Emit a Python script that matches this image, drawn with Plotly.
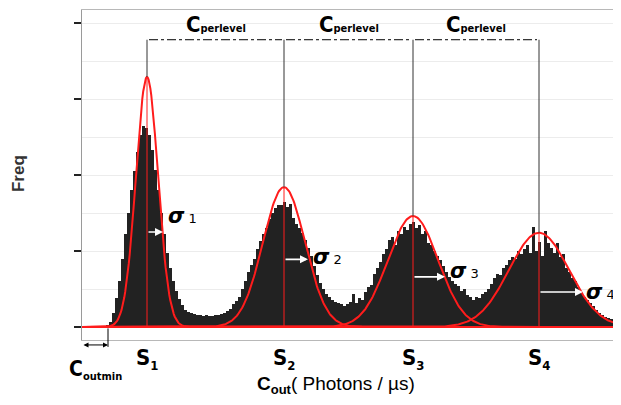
import math
import plotly.graph_objects as go

# ---------------- data ----------------
BIN_WIDTH = 3  # photons/us per bin (arbitrary units, axis unlabeled)
counts = [
    0, 0, 0, 0, 0, 0, 0.01, 0.01, 0.02, 0.07,
    0.18, 0.38, 0.60, 0.90, 1.22, 1.50, 1.80, 2.05, 2.30, 2.52,
    2.64, 2.62, 2.52, 2.33, 2.06, 1.80, 1.50, 1.22, 0.98, 0.78,
    0.60, 0.47, 0.37, 0.29, 0.23, 0.20, 0.18, 0.17, 0.16, 0.16,
    0.15, 0.16, 0.15, 0.15, 0.16, 0.16, 0.17, 0.19, 0.21, 0.24,
    0.30, 0.34, 0.40, 0.50, 0.60, 0.73, 0.82, 0.90, 1.02, 1.13,
    1.22, 1.30, 1.42, 1.50, 1.56, 1.60, 1.60, 1.64, 1.58, 1.62,
    1.44, 1.36, 1.30, 1.24, 1.15, 1.04, 0.94, 0.80, 0.68, 0.58,
    0.50, 0.44, 0.39, 0.36, 0.33, 0.31, 0.30, 0.28, 0.30, 0.33,
    0.44, 0.31, 0.38, 0.36, 0.46, 0.52, 0.55, 0.70, 0.78, 0.86,
    0.96, 1.02, 1.14, 1.18, 1.08, 1.26, 1.22, 1.32, 1.28, 1.36,
    1.38, 1.30, 1.34, 1.22, 1.26, 1.10, 1.08, 1.00, 0.94, 0.88,
    0.80, 0.72, 0.66, 0.60, 0.56, 0.54, 0.47, 0.50, 0.42, 0.40,
    0.36, 0.40, 0.38, 0.44, 0.46, 0.50, 0.56, 0.64, 0.70, 0.68,
    0.78, 0.82, 0.88, 0.92, 0.90, 1.00, 0.96, 1.02, 1.08, 0.98,
    1.32, 1.00, 1.12, 0.94, 1.26, 1.10, 1.04, 0.98, 1.10, 0.92,
    0.96, 0.78, 0.72, 0.64, 0.60, 0.52, 0.46, 0.40, 0.35, 0.31,
    0.27, 0.23, 0.19, 0.16, 0.13, 0.12, 0.10, 0.08, 0.06, 0.05,
]
bin_centers = [BIN_WIDTH * (i + 0.5) for i in range(len(counts))]

peak_names = ["1", "2", "3", "4"]
peak_centers = [65, 202, 331, 457]       # fitted means
peak_heights = [3.29, 1.84, 1.46, 1.24]  # fitted amplitudes
peak_sigmas = [11, 21, 25, 30]           # fitted std devs
sigma_arrow_y = [1.25, 0.89, 0.66, 0.46]
sigma_arrow_len = [16, 24, 32, 44]
sigma_label_gap = [3, 3, 3, 1]
sigma_label_yshift = [16, 2, 6, 0]
cperlevel_y = 3.78
coutmin = 26
x_max = 539
y_range = [-0.171, 4.171]

RED = "rgb(255,28,28)"
BOLD_FONT = "Liberation Sans Narrow, DejaVu Sans Condensed, Liberation Sans, Arial"

fig = go.Figure()

# histogram bars
fig.add_trace(go.Bar(
    x=bin_centers, y=counts, width=BIN_WIDTH * 0.72,
    marker=dict(color="#222222", line=dict(width=0)),
    hoverinfo="skip", showlegend=False,
))

# gaussian fits
n_pts = 600
xs = [x_max * i / (n_pts - 1) for i in range(n_pts)]
for mu, h, s in zip(peak_centers, peak_heights, peak_sigmas):
    ys = [h * math.exp(-0.5 * ((x - mu) / s) ** 2) for x in xs]
    fig.add_trace(go.Scatter(x=xs, y=ys, mode="lines",
                             line=dict(color=RED, width=2),
                             hoverinfo="skip", showlegend=False))

shapes = []
annotations = []
for i, (mu, h, s) in enumerate(zip(peak_centers, peak_heights, peak_sigmas)):
    shapes.append(dict(type="line", x0=mu, x1=mu, y0=0, y1=h,
                       line=dict(color=RED, width=1), layer="above"))
    shapes.append(dict(type="line", x0=mu, x1=mu, y0=h, y1=cperlevel_y,
                       line=dict(color="#333", width=1), layer="above"))
    annotations.append(dict(x=mu, y=-0.106, xref="x", yref="paper", showarrow=False,
                            text="<b>S<sub><span style='font-size:13px'>" + peak_names[i] + "</span></sub></b>",
                            font=dict(size=22, color="black", family=BOLD_FONT)))
    annotations.append(dict(x=mu + sigma_arrow_len[i], y=sigma_arrow_y[i],
                            ax=mu, ay=sigma_arrow_y[i], xref="x", yref="y",
                            axref="x", ayref="y", text="", showarrow=True,
                            arrowhead=2, arrowsize=1, arrowwidth=1.6,
                            arrowcolor="white"))
    annotations.append(dict(x=mu + sigma_arrow_len[i] + sigma_label_gap[i], y=sigma_arrow_y[i],
                            xref="x", yref="y", xanchor="left", showarrow=False,
                            yshift=sigma_label_yshift[i],
                            text="<b><i>σ</i></b><span style='font-size:13px'> " + peak_names[i] + "</span>",
                            font=dict(size=21, color="black", family="DejaVu Sans, Liberation Sans")))

# C_perlevel dash-dot double arrows
for a, b in zip(peak_centers[:-1], peak_centers[1:]):
    shapes.append(dict(type="line", x0=a + 2, x1=b - 2, y0=cperlevel_y, y1=cperlevel_y,
                       line=dict(color="black", width=1, dash="dashdot"), layer="above"))
    for tip, tail in ((b, b - 1), (a, a + 1)):
        annotations.append(dict(x=tip, y=cperlevel_y, ax=tail, ay=cperlevel_y,
                                xref="x", yref="y", axref="x", ayref="y", text="",
                                showarrow=True, arrowhead=2, arrowsize=1.4,
                                arrowwidth=1.5, arrowcolor="black"))
    annotations.append(dict(x=(a + b) / 2, y=1.0, xref="x", yref="paper", yanchor="top",
                            showarrow=False,
                            text="<b>C<span style='font-size:11px'>perlevel</span></b>",
                            font=dict(size=22, color="black", family=BOLD_FONT)))

# C_outmin marker (below the axis)
annotations.append(dict(x=coutmin, y=-0.015, xref="x", yref="paper",
                        ax=0, ay=0, axref="x", ayref="pixel", text="", showarrow=True,
                        arrowhead=2, startarrowhead=2, arrowside="end+start",
                        arrowsize=1, arrowwidth=1, arrowcolor="black"))
annotations.append(dict(x=coutmin, y=-0.021, xref="x", yref="paper",
                        ax=0, ay=-20, text="", showarrow=True, arrowhead=0,
                        arrowwidth=1, arrowcolor="black"))
annotations.append(dict(x=13, y=-0.136, xref="x", yref="paper", showarrow=False,
                        text="<b>C<sub><span style='font-size:11px'>outmin</span></sub></b>",
                        font=dict(size=21, color="black", family=BOLD_FONT)))

# axis titles as annotations
annotations.append(dict(x=0.471, y=-0.178, xref="paper", yref="paper", showarrow=False,
                        text="<b>C<sub><span style='font-size:13px'>out</span></sub></b>( Photons / µs)",
                        font=dict(size=19, color="black", family="Liberation Sans, Arial")))
annotations.append(dict(x=-0.14, y=0.503, xref="paper", yref="paper", showarrow=False,
                        textangle=-90, text="<b>Freq</b>",
                        font=dict(size=17, color="#333", family="Liberation Sans, Arial")))

# the page body has an 8px margin, so the figure is offset by (8, 8)
fig.update_layout(
    width=613, height=389,
    margin=dict(l=74, r=0, t=2, b=57, autoexpand=False),
    paper_bgcolor="white", plot_bgcolor="white",
    bargap=0, showlegend=False,
    shapes=shapes, annotations=annotations,
    xaxis=dict(range=[0, x_max], showticklabels=False, ticks="", showgrid=False,
               zeroline=False, showline=True, linecolor="#b8b8b8", linewidth=1,
               mirror=True, automargin=False),
    yaxis=dict(range=y_range, tickvals=[0, 1, 2, 3, 4], showticklabels=False,
               ticks="outside", ticklen=7, tickwidth=2, tickcolor="#222",
               showgrid=True, gridcolor="#ececec", gridwidth=1,
               minor=dict(dtick=0.5, tick0=0, showgrid=True, gridcolor="#ececec", ticks=""),
               zeroline=False, showline=True, linecolor="#9a9a9a", linewidth=1,
               automargin=False),
)

fig.write_html("out.html")
